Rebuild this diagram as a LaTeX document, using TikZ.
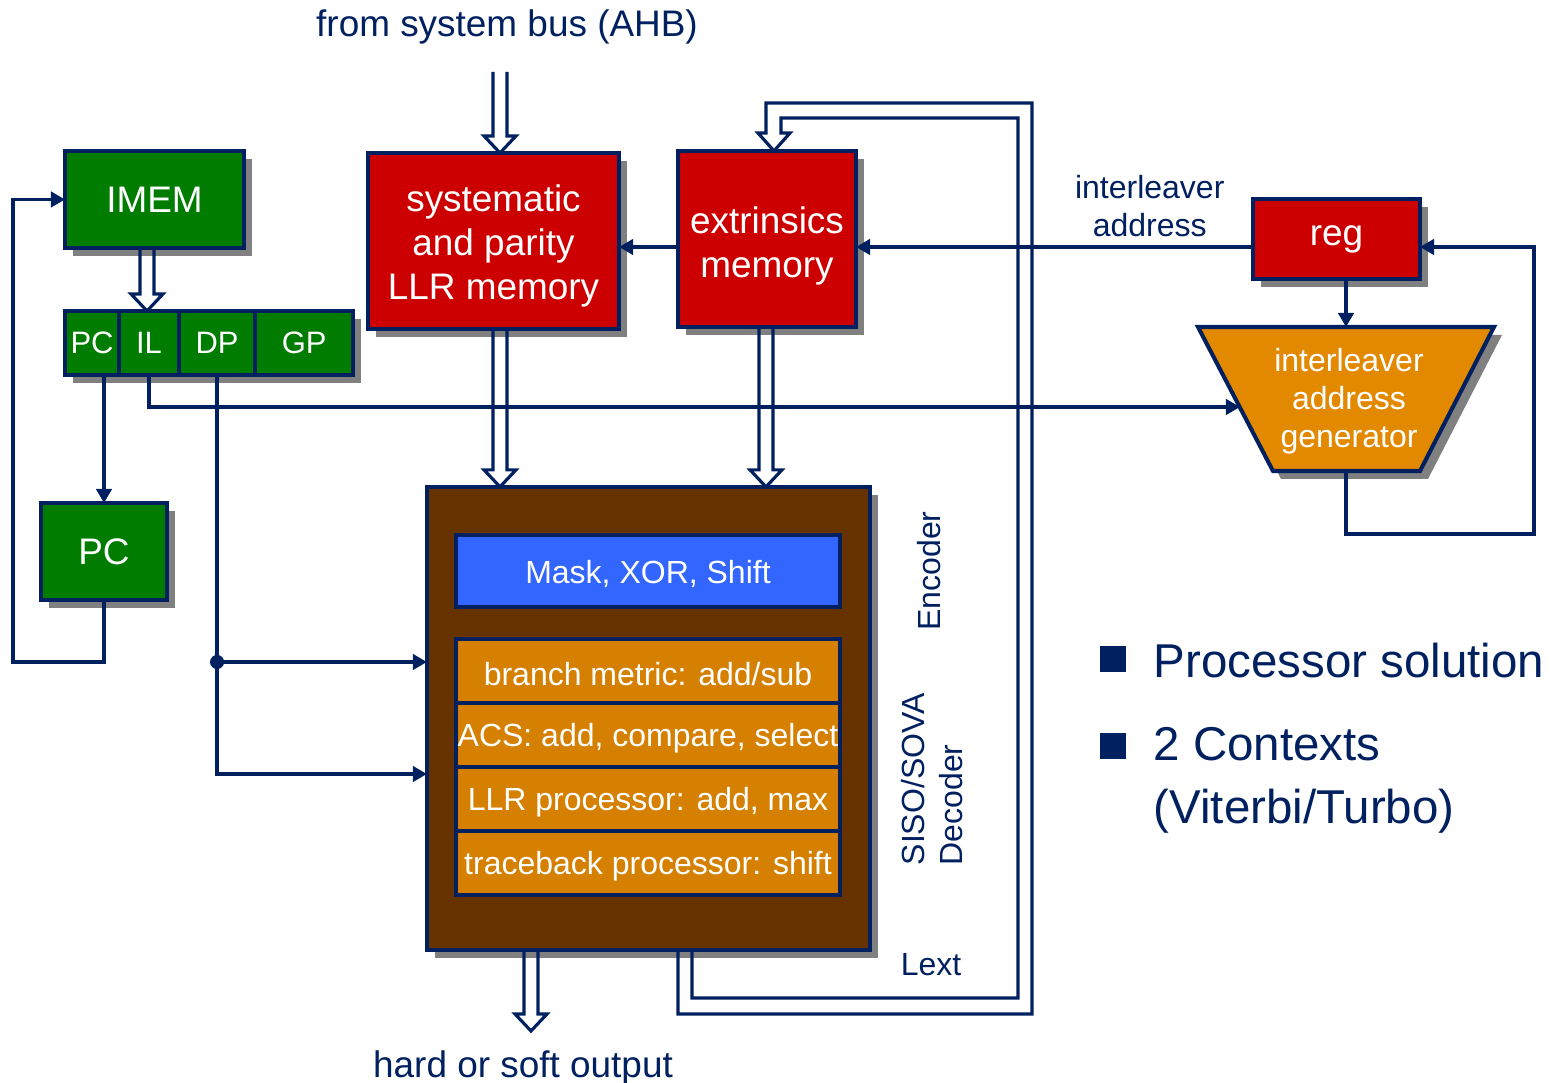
\documentclass[tikz,border=0pt]{standalone}
\usepackage{fontspec}
\setmainfont{Liberation Sans}
\usetikzlibrary{positioning,calc,shadows,arrows.meta}

\definecolor{linecol}{RGB}{0,32,96}
\definecolor{memred}{RGB}{204,0,0}
\definecolor{ctrlgreen}{RGB}{0,125,0}
\definecolor{decbrown}{RGB}{102,51,0}
\definecolor{unitorange}{RGB}{213,128,0}
\definecolor{agorange}{RGB}{226,137,0}
\definecolor{encblue}{RGB}{51,102,255}
\definecolor{shadowgray}{RGB}{128,128,128}

\newcommand{\blockfont}{\fontsize{10.5}{12.5}\selectfont}
\newcommand{\unitfont}{\fontsize{9.1}{10.8}\selectfont}
\newcommand{\regfont}{\fontsize{8.8}{10.5}\selectfont}
\newcommand{\notefont}{\fontsize{13.5}{17.9}\selectfont}

% hollow bus arrow, straight down: x position, start, tip
\newcommand{\busarrow}[3]{%
  \coordinate (b0) at (#1,0);
  \draw[bus] ($(b0 |- #2)+(-7,0)$) -- ($(b0 |- #3)+(-7,-17)$) -- ($(b0 |- #3)+(-16,-17)$)
    -- (b0 |- #3) -- ($(b0 |- #3)+(16,-17)$) -- ($(b0 |- #3)+(7,-17)$) -- ($(b0 |- #2)+(7,0)$);}

\begin{document}
\begin{tikzpicture}[x=0.01cm, y=-0.01cm, >={Triangle[length=4pt,width=4.4pt]},
    box/.style={draw=linecol, line width=1.15pt, text=white, inner sep=0pt, outer sep=0pt,
      drop shadow={shadow xshift=0.8mm, shadow yshift=-0.8mm, fill=shadowgray, opacity=1}},
    unit/.style={draw=linecol, line width=1.1pt, text=white, font=\unitfont, inner sep=0pt,
      outer sep=0pt, minimum width=38.4mm, minimum height=6.4mm,
      execute at begin node={\rule{0pt}{8.2pt}}},
    conn/.style={draw=linecol, line width=0.9pt},
    bus/.style={draw=linecol, line width=0.9pt, line join=miter},
    note/.style={text=linecol, font=\blockfont, inner sep=0pt},
    side/.style={text=linecol, font=\unitfont, inner sep=0pt},
    bullet/.style={fill=linecol, minimum size=2.6mm, inner sep=0pt}]
    \useasboundingbox (0,0) rectangle (1550,1083);

    % Control
    \node [box, fill=ctrlgreen, font=\blockfont, minimum width=17.9mm, minimum height=9.7mm] (imem) at (154.5,199.5) {IMEM};
    \node [box, fill=ctrlgreen, font=\regfont, minimum width=5.4mm, minimum height=6.4mm] (pcr) at (92,343) {PC};
    \node [box, fill=ctrlgreen, font=\regfont, minimum width=6mm, minimum height=6.4mm, right=0mm of pcr] (il) {IL};
    \node [box, fill=ctrlgreen, font=\regfont, minimum width=7.6mm, minimum height=6.4mm, right=0mm of il] (dp) {DP};
    \node [box, fill=ctrlgreen, font=\regfont, minimum width=9.8mm, minimum height=6.4mm, right=0mm of dp] (gp) {GP};
    \node [box, fill=ctrlgreen, font=\blockfont, minimum width=12.5mm, minimum height=9.7mm] (pc) at (104,551.5) {PC};

    % Memories
    \node [box, fill=memred, font=\blockfont, align=center, minimum width=25.1mm, minimum height=17.6mm] (sysmem) at (493.5,241) {\rule{0pt}{10.6pt}systematic\\and parity\\LLR memory};
    \node [box, fill=memred, font=\blockfont, align=center, minimum width=17.8mm, minimum height=17.6mm] (extmem) at (767,239) {\rule{0pt}{11.8pt}extrinsics\\memory};
    \node [box, fill=memred, font=\blockfont, minimum width=16.7mm, minimum height=8mm] (reg) at (1336.5,239) {reg};

    % Address generator
    \draw [box, fill=agorange] (1198,327) -- (1494,327) -- (1420,471) -- (1273,471) -- cycle;
    \node [font=\unitfont, text=white, align=center, inner sep=0pt] (ag) at (1349,401) {interleaver\\address\\generator};
    \coordinate (agtop) at (1346,327);
    \coordinate (agbot) at (1346,471);
    \coordinate (agin) at (1240,407);

    % Decoder
    \node [box, fill=decbrown, minimum width=44.3mm, minimum height=46.3mm] (dec) at (648.5,718.5) {};
    \node [unit, fill=encblue, minimum height=7.2mm] (enc) at (648,571) {Mask, XOR, Shift};
    \node [unit, fill=unitorange] (bm) at (648,671) {branch metric: add/sub};
    \node [unit, fill=unitorange, below=0mm of bm] (acs) {ACS: add, compare, select};
    \node [unit, fill=unitorange, below=0mm of acs] (llr) {LLR processor: add, max};
    \node [unit, fill=unitorange, below=0mm of llr] (tb) {traceback processor: shift};

    \node [side, rotate=90] (enclbl) at (929,571) {Encoder};
    \node [side, rotate=90, anchor=west, align=left] (declbl) at (932,866) {SISO/SOVA\\Decoder};
    \node [side] (lext) at (931,965) {Lext};

    \node [note] (ahbtxt) at (507,27) {from system bus (AHB)};
    \node [note] (outtxt) at (523,1068) {hard or soft output};

    % Bullets
    \node [bullet] (b1) at (1113,659) {};
    \node [bullet] (b2) at (1113,746) {};
    \node [note, font=\notefont, anchor=west] (p1) at (1153,661) {Processor solution};
    \node [note, font=\notefont, anchor=west, align=left] (p2) at (1153,780) {2 Contexts\\(Viterbi/Turbo)};

    % Levels
    \coordinate (ya) at (0,247);
    \coordinate (ybm) at (0,662);
    \coordinate (yacs) at (0,774);
    \coordinate (ahb) at (500,72);
    \coordinate (outtip) at (531,1031);

    % Buses
    \busarrow{147}{imem.south}{il.north}
    \busarrow{500}{ahb}{sysmem.north}
    \busarrow{500}{sysmem.south}{dec.north}
    \busarrow{766}{extmem.south}{dec.north}
    \busarrow{531}{dec.south}{outtip}

    % Lext feedback
    \draw [bus] ([xshift=2.95mm]dec.south) |- (1032,1014) |- (766,103) -- (766,133) -- (758,133)
      -- ([xshift=0.7mm]extmem.north) -- (790,133) -- (781,133) |- (1018,118) |- (692,998)
      -- ([xshift=4.35mm]dec.south);

    % Address path
    \draw [conn,->] (extmem.west |- ya) -- (sysmem.east |- ya);
    \draw [conn,->] (reg.west |- ya) -- node [pos=.26, above, side, inner sep=2.5pt, align=center] (ila) {interleaver\\address} (extmem.east |- ya);
    \draw [conn,->] (reg.south -| agtop) -- (agtop);
    \draw [conn,->] (agbot) |- (1534,534) |- (reg.east |- ya);
    \draw [conn,->] (il.south) |- (agin);

    % Program counter
    \draw [conn,->] (pcr.south -| pc.north) -- (pc.north);
    \draw [conn,->] (pc.south) |- (13,662) |- (imem.west);

    % DP
    \coordinate (junc) at (dp.south |- ybm);
    \draw [conn,->] (dp.south) |- (dec.west |- yacs);
    \draw [conn,->] (junc) -- (dec.west |- ybm);
    \fill [linecol] (junc) circle (2pt);
\end{tikzpicture}
\end{document}
